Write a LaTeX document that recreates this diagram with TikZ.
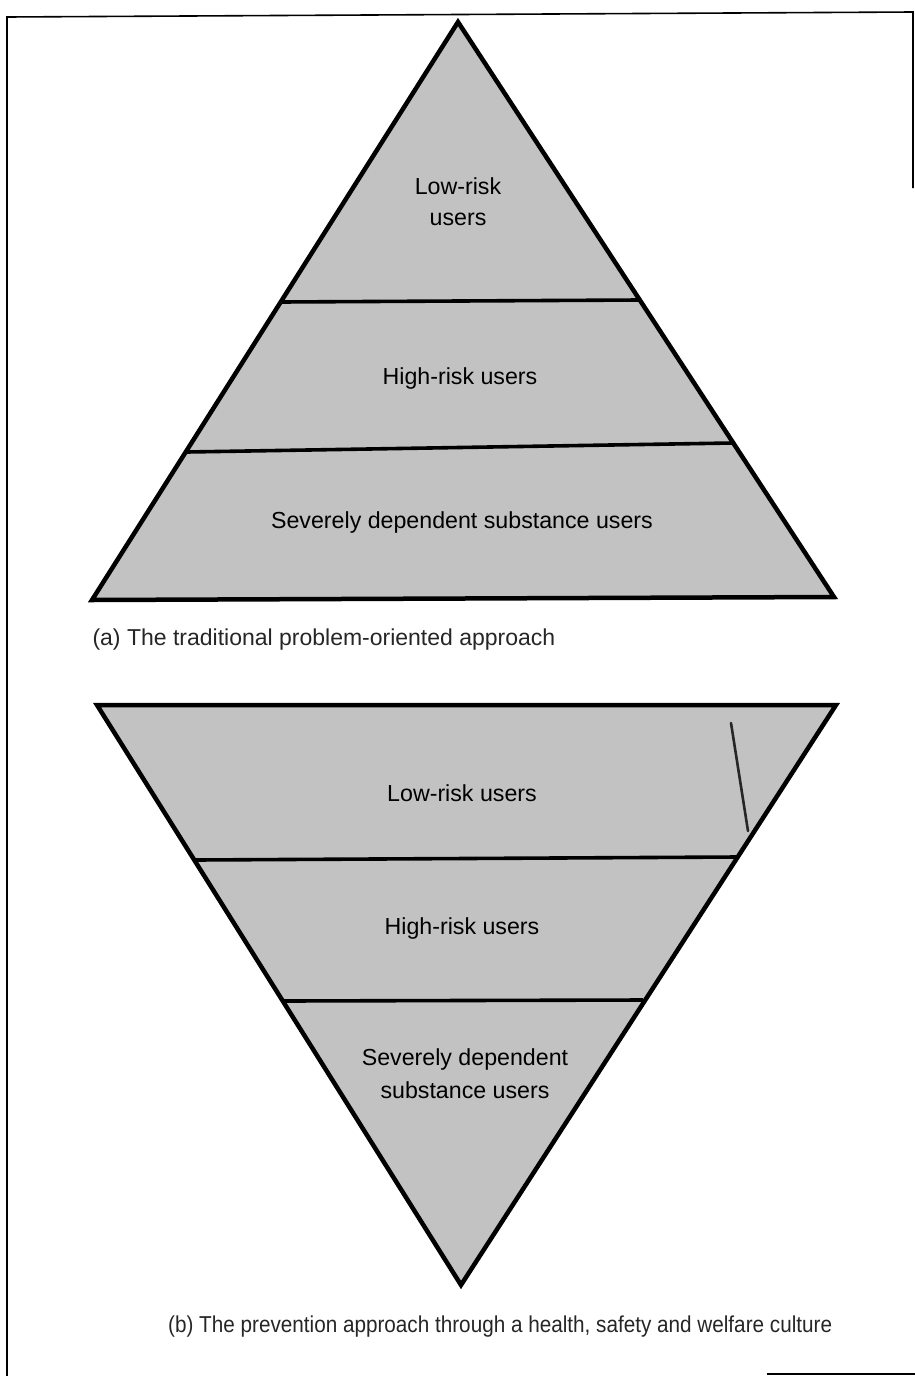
\documentclass[tikz,border=0pt]{standalone}
\usepackage{fontspec}
\setmainfont{Liberation Sans}
\begin{document}
\begin{tikzpicture}[x=1pt,y=-1pt,
  band/.style={fill=black!24,draw=none},
  outline/.style={draw=black,line width=4.5pt,line join=miter},
  divider/.style={draw=black,line width=3.6pt},
  frameline/.style={draw=black,line width=1.6pt},
  lbl/.style={font=\fontsize{23.2}{27}\selectfont,align=center,text=black},
  captext/.style={font=\fontsize{23}{27}\selectfont,anchor=west,text=black!85}]
\useasboundingbox (0,0) rectangle (915,1376);
% frame
\draw[frameline] (7,1376) -- (7,17) -- (913,12) -- (913,188);
\draw[frameline] (767,1374) -- (915,1374);
% ---------- (a) pyramid ----------
\coordinate (A) at (458,22);
\coordinate (BL) at (92,600);
\coordinate (BR) at (834,597);
\fill[band] (A) -- (BL) -- (BR) -- cycle;
\coordinate (d1l) at (281,302);
\coordinate (d1r) at (639,300);
\coordinate (d2l) at (187,452);
\coordinate (d2r) at (732,443);
\draw[divider] (d1l) -- (d1r);
\draw[divider] (d2l) -- (d2r);
\draw[outline] (A) -- (BL) -- (BR) -- cycle;
\node[lbl] (a1) at (458,186) {Low-risk};
\node[lbl] (a2) at (458,219) {users};
\node[lbl] (a3) at (460,378) {High-risk users};
\node[lbl] (a4) at (462,522) {Severely dependent substance users};
\node[captext] (capa) at (89,640) {(a) The traditional problem-oriented approach};
% ---------- (b) inverted pyramid ----------
\coordinate (TL) at (97,705);
\coordinate (TR) at (836,705);
\coordinate (V) at (461,1285);
\fill[band] (TL) -- (TR) -- (V) -- cycle;
\coordinate (e1l) at (195,860);
\coordinate (e1r) at (737,857);
\coordinate (e2l) at (283,1001);
\coordinate (e2r) at (643,1000);
\draw[divider] (e1l) -- (e1r);
\draw[divider] (e2l) -- (e2r);
\draw[outline] (TL) -- (TR) -- (V) -- cycle;
\coordinate (m1) at (731,723);
\coordinate (m2) at (748,831);
\draw[line width=2.6pt,black!85,line cap=round] (m1) -- (m2);
\node[lbl] (b1) at (462,793) {Low-risk users};
\node[lbl] (b2) at (462,928) {High-risk users};
\node[lbl] (b3) at (465,1059) {Severely dependent};
\node[lbl] (b4) at (465,1090) {substance users};
\node[captext,xscale=0.9] (capb) at (165,1327) {(b) The prevention approach through a health, safety and welfare culture};
\end{tikzpicture}
\end{document}
